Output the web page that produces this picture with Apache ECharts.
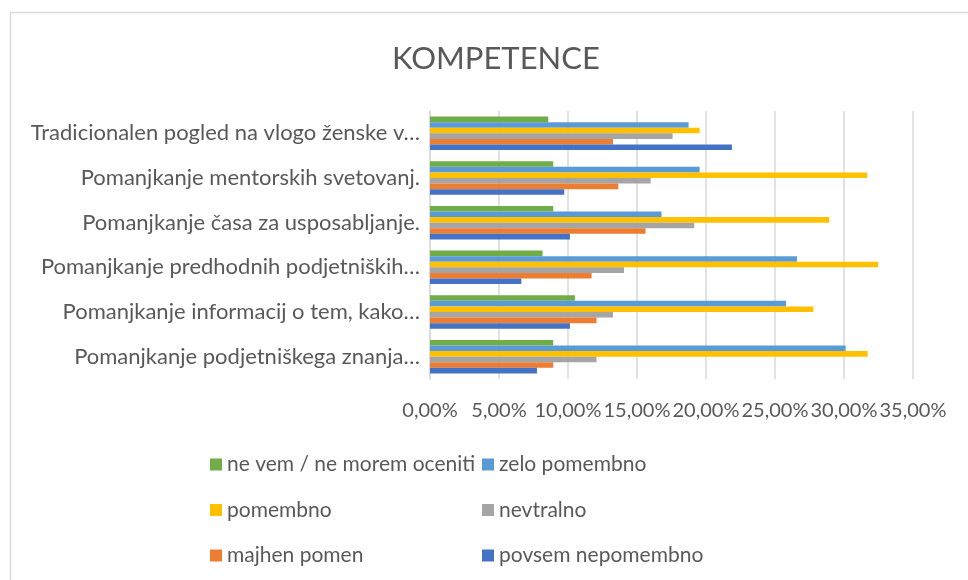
<!DOCTYPE html>
<html lang="sl">
<head>
    <meta charset="UTF-8">
    <title>KOMPETENCE</title>
    <script src="https://cdn.jsdelivr.net/npm/echarts@6/dist/echarts.min.js"></script>
    <style>
        html, body {margin: 0; padding: 0; background: #fff;}
        #chart {width: 968px; height: 580px;}
    </style>
</head>
<body>
<div id="chart"></div>
<script>
    // kategorije od spodaj navzgor
    var categories = [
        'Pomanjkanje podjetniškega znanja…',
        'Pomanjkanje informacij o tem, kako…',
        'Pomanjkanje predhodnih podjetniških…',
        'Pomanjkanje časa za usposabljanje.',
        'Pomanjkanje mentorskih svetovanj.',
        'Tradicionalen pogled na vlogo ženske v…'
    ];
    var xTicks = [0, 5, 10, 15, 20, 25, 30, 35];

    var neVem = [8.93, 10.50, 8.16, 8.93, 8.93, 8.57];
    var zeloPomembno = [30.12, 25.80, 26.59, 16.78, 19.54, 18.74];
    var pomembno = [31.71, 27.78, 32.48, 28.93, 31.68, 19.54];
    var nevtralno = [12.07, 13.26, 14.06, 19.15, 15.99, 17.58];
    var majhenPomen = [8.93, 12.07, 11.71, 15.62, 13.65, 13.26];
    var povsemNepomembno = [7.75, 10.14, 6.62, 10.14, 9.73, 21.88];

    var names = ['ne vem / ne morem oceniti', 'zelo pomembno', 'pomembno', 'nevtralno', 'majhen pomen', 'povsem nepomembno'];
    var colors = ['#70AD47', '#5B9BD5', '#FFC000', '#A5A5A5', '#ED7D31', '#4472C4'];
    var values = [neVem, zeloPomembno, pomembno, nevtralno, majhenPomen, povsemNepomembno];

    var font = 'Lato';
    var textColor = '#595959';

    var series = [];
    for (var i = 0; i < names.length; i++) {
        series.push({
            name: names[i],
            type: 'bar',
            data: values[i],
            itemStyle: {color: colors[i]},
            barGap: '0%',
            barCategoryGap: '25%'
        });
    }

    // dve navpični legendi, da sta stolpca poravnana
    function legendFor(list, left) {
        return {
            orient: 'vertical',
            left: left,
            top: 454,
            padding: 0,
            data: list,
            icon: 'rect',
            itemWidth: 12,
            itemHeight: 12,
            itemGap: 24.5,
            textStyle: {fontFamily: font, fontSize: 21, lineHeight: 20, color: textColor}
        };
    }

    var chart = echarts.init(document.getElementById('chart'));
    chart.setOption({
        animation: false,
        color: colors,
        title: {
            text: 'KOMPETENCE',
            left: 387,
            top: 38,
            textStyle: {fontFamily: font, fontSize: 31, fontWeight: 'normal', color: textColor}
        },
        legend: [
            legendFor([names[0], names[2], names[4]], 210),
            legendFor([names[1], names[3], names[5]], 482)
        ],
        grid: {left: 430, top: 111, width: 483, height: 268, outerBoundsMode: 'none'},
        xAxis: {
            type: 'value',
            min: xTicks[0],
            max: xTicks[xTicks.length - 1],
            interval: xTicks[1] - xTicks[0],
            axisLine: {show: false},
            axisTick: {show: false},
            splitLine: {lineStyle: {color: '#d9d9d9', width: 1.5}},
            axisLabel: {
                margin: 22,
                fontFamily: font,
                fontSize: 20,
                color: textColor,
                formatter: function (v) { return v.toFixed(2).replace('.', ',') + '%'; }
            }
        },
        yAxis: {
            type: 'category',
            data: categories,
            axisLine: {lineStyle: {color: '#d9d9d9', width: 1.5}},
            axisTick: {show: false},
            axisLabel: {margin: 10, fontFamily: font, fontSize: 22, color: textColor}
        },
        graphic: [{
            type: 'rect',
            shape: {x: 10.5, y: 12.5, width: 1000, height: 600},
            style: {fill: 'none', stroke: '#d9d9d9', lineWidth: 1.5},
            silent: true
        }],
        series: series
    });
</script>
</body>
</html>
